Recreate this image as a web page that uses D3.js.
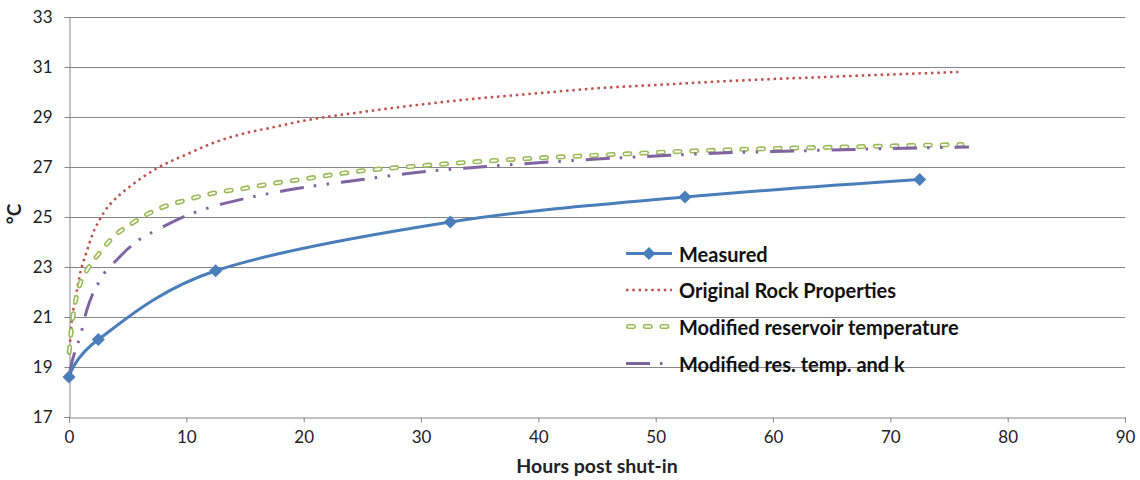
<!DOCTYPE html>
<html>
<head>
<meta charset="utf-8">
<script src="https://cdn.jsdelivr.net/npm/d3@7"></script>
<style>
  body { margin: 0; background: #fff; }
  svg { display: block; font-family: "Lato", sans-serif; }
</style>
</head>
<body>
<svg id="chart" width="1140" height="480"></svg>
<script>
// measured well temperatures after shut-in
const measuredHours = [0, 2.5, 12.5, 32.5, 52.5, 72.5];
const measuredTemp = [18.6, 20.1, 22.85, 24.8, 25.8, 26.5];

// simulated curves
const modelHours = [0.02, 0.2, 0.5, 1, 1.5, 2, 2.5, 3, 4, 5, 6, 7.5, 10, 12.5, 15, 17.5, 20, 25, 30, 35, 40, 45, 50, 55, 60, 65, 70];
const rockTemp = [19.5, 20.7, 21.6, 22.85, 23.6, 24.3, 24.8, 25.2, 25.75, 26.15, 26.5, 26.95, 27.5, 28.0, 28.35, 28.6, 28.85, 29.2, 29.5, 29.75, 29.95, 30.15, 30.28, 30.41, 30.52, 30.61, 30.7];
const resTemp = [19.6, 20.5, 21.5, 22.4, 22.85, 23.2, 23.5, 23.8, 24.3, 24.63, 24.93, 25.3, 25.68, 25.97, 26.15, 26.35, 26.52, 26.85, 27.05, 27.22, 27.36, 27.47, 27.58, 27.67, 27.74, 27.79, 27.84];
const resKTemp = [18.65, 19.1, 19.6, 20.3, 21.25, 21.9, 22.35, 22.75, 23.25, 23.72, 24.1, 24.48, 25.05, 25.45, 25.74, 25.98, 26.18, 26.5, 26.8, 27.0, 27.17, 27.32, 27.44, 27.55, 27.62, 27.68, 27.74];
// last point of each simulated run
const rockEnd = [75.8, 30.8];
const resEnd = [76.1, 27.9];
const resKEnd = [76.7, 27.8];

const xTicks = [0, 10, 20, 30, 40, 50, 60, 70, 80, 90];
const yTicks = [17, 19, 21, 23, 25, 27, 29, 31, 33];

const legendLabels = ['Measured', 'Original Rock Properties', 'Modified reservoir temperature', 'Modified res. temp. and k'];

const svg = d3.select('#chart');
const grey = '#868686';
const blue = '#4A7EBB', red = '#C0504D', green = '#9BBB59', purple = '#8064A2';

const x = d3.scaleLinear().domain([0, 90]).range([69, 1125]);
const y = d3.scaleLinear().domain([17, 33]).range([417, 17]);

// horizontal gridlines
svg.append('g')
  .selectAll('line')
  .data(yTicks.slice(1))
  .join('line')
  .attr('x1', x(0)).attr('x2', x(90))
  .attr('y1', (d) => Math.round(y(d)) + 0.5)
  .attr('y2', (d) => Math.round(y(d)) + 0.5)
  .attr('stroke', grey)
  .attr('stroke-width', 1);

// axes
const xAxis = svg.append('g')
  .attr('transform', `translate(0,${Math.round(y(17)) + 0.5})`)
  .call(d3.axisBottom(x).tickValues(xTicks).tickSize(5).tickPadding(8));
const yAxis = svg.append('g')
  .attr('transform', `translate(${Math.round(x(0)) + 0.5},0)`)
  .call(d3.axisLeft(y).tickValues(yTicks).tickSize(5).tickPadding(12));

[xAxis, yAxis].forEach((g) => {
  g.select('.domain').attr('stroke', grey);
  g.selectAll('.tick line').attr('stroke', grey);
  g.selectAll('.tick text')
    .attr('fill', '#222')
    .style('font-size', '17px')
    .style('font-family', '"Lato", sans-serif');
});

svg.append('text')
  .attr('x', 597).attr('y', 473)
  .attr('text-anchor', 'middle')
  .style('font-size', '19.5px').style('font-weight', 'bold')
  .attr('fill', '#222')
  .text('Hours post shut-in');

svg.append('text')
  .attr('transform', 'translate(21,214) rotate(-90)')
  .attr('text-anchor', 'middle')
  .style('font-size', '19px').style('font-weight', 'bold')
  .attr('fill', '#222')
  .text('°C');

const smooth = d3.line()
  .x((d) => x(d[0]))
  .y((d) => y(d[1]))
  .curve(d3.curveMonotoneX);

const rockData = modelHours.map((h, i) => [h, rockTemp[i]]).concat([rockEnd]);
const resData = modelHours.map((h, i) => [h, resTemp[i]]).concat([resEnd]);
const resKData = modelHours.map((h, i) => [h, resKTemp[i]]).concat([resKEnd]);
const measuredData = measuredHours.map((h, i) => [h, measuredTemp[i]]);

// line styles
function rockStyle(sel) {
  sel.attr('fill', 'none').attr('stroke', red).attr('stroke-width', 2.5)
    .attr('stroke-dasharray', '2.5,3.8');
}
function resStyleOuter(sel) {
  sel.attr('fill', 'none').attr('stroke', green).attr('stroke-width', 5)
    .attr('stroke-linecap', 'round').attr('stroke-dasharray', '5,11.7');
}
function resStyleInner(sel) {
  sel.attr('fill', 'none').attr('stroke', '#fff').attr('stroke-width', 1.8)
    .attr('stroke-linecap', 'round').attr('stroke-dasharray', '5,11.7');
}
function resKStyle(sel) {
  sel.attr('fill', 'none').attr('stroke', purple).attr('stroke-width', 3)
    .attr('stroke-dasharray', '24,10,2.5,10.5,2.5,12');
}
function measuredStyle(sel) {
  sel.attr('fill', 'none').attr('stroke', blue).attr('stroke-width', 3);
}

svg.append('path').datum(rockData).attr('d', smooth).call(rockStyle);
svg.append('path').datum(resData).attr('d', smooth).call(resStyleOuter);
svg.append('path').datum(resData).attr('d', smooth).call(resStyleInner);
svg.append('path').datum(resKData).attr('d', smooth).call(resKStyle);

const measuredLine = d3.line()
  .x((d) => x(d[0]))
  .y((d) => y(d[1]))
  .curve(d3.curveCardinal.tension(0));

svg.append('path').datum(measuredData).attr('d', measuredLine).call(measuredStyle);

// square diamond markers
const diamond = d3.symbol().type(d3.symbolDiamond2).size(110);
svg.append('g')
  .selectAll('path')
  .data(measuredData)
  .join('path')
  .attr('transform', (d) => `translate(${x(d[0])},${y(d[1])})`)
  .attr('d', diamond)
  .attr('fill', blue);

// legend
const legend = svg.append('g');
const rowY = [253.5, 290, 326.5, 363.5];
const lx1 = 626, lx2 = 672;

legend.append('line').attr('x1', lx1).attr('x2', lx2).attr('y1', rowY[0]).attr('y2', rowY[0]).call(measuredStyle);
legend.append('path').attr('d', diamond).attr('transform', `translate(${(lx1 + lx2) / 2},${rowY[0]})`).attr('fill', blue);
legend.append('line').attr('x1', lx1).attr('x2', lx2).attr('y1', rowY[1]).attr('y2', rowY[1]).call(rockStyle);
legend.append('line').attr('x1', lx1 + 2.5).attr('x2', lx2).attr('y1', rowY[2]).attr('y2', rowY[2]).call(resStyleOuter);
legend.append('line').attr('x1', lx1 + 2.5).attr('x2', lx2).attr('y1', rowY[2]).attr('y2', rowY[2]).call(resStyleInner);
legend.append('line').attr('x1', lx1).attr('x2', lx2).attr('y1', rowY[3]).attr('y2', rowY[3]).call(resKStyle);

legend.selectAll('text')
  .data(legendLabels)
  .join('text')
  .attr('x', 679)
  .attr('y', (d, i) => rowY[i] + 5)
  .attr('dy', '0.15em')
  .style('font-size', '20px')
  .style('font-weight', 'bold')
  .attr('fill', '#111')
  .text((d) => d);
</script>
</body>
</html>
